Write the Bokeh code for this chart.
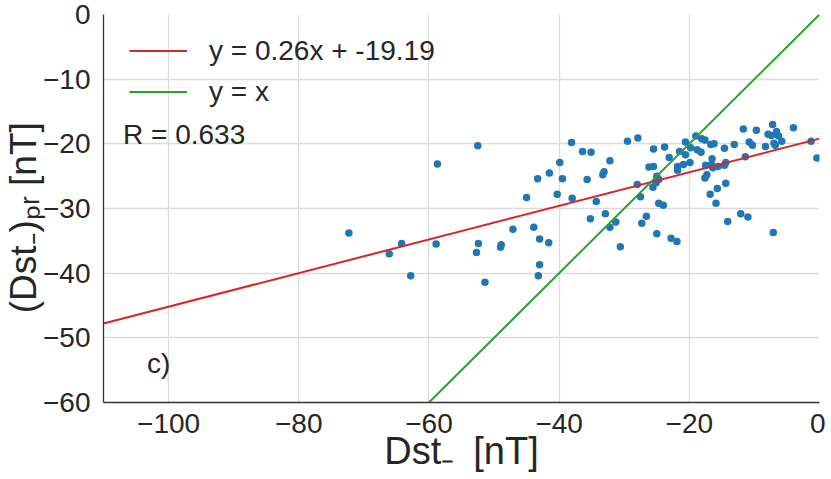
from bokeh.plotting import figure
from bokeh.models import FixedTicker, Legend, LegendItem, Label
from bokeh.embed import file_html
from bokeh.resources import INLINE

# observed Dst- (x) and predicted (Dst-)pr (y), nT
dst = [-52.5, -58.7, -38.1, -36.4, -39.9, -41.5, -43.3, -39.5, -40.3, -45.0,
       -38.0, -72.3, -47.1, -43.9, -43.0, -41.6, -64.2, -66.1, -58.9, -52.4,
       -52.7, -48.9, -49.0, -62.8, -51.4, -43.0, -43.2,
       -35.1, -29.5, -27.9, -32.2, -33.1, -33.3, -35.7, -34.3, -35.2,
       -32.9, -31.3, -32.2, -30.6, -25.5, -23.8, -23.1, -26.2, -25.5, -28.0,
       -25.0, -24.7, -25.6, -25.1, -27.5, -24.7, -24.0, -26.6, -27.3, -25.0,
       -22.8, -21.9, -20.6, -21.5, -20.6, -21.8, -21.8, -20.9, -19.9, -19.8,
       -19.0, -18.1, -17.6, -18.8, -18.2, -16.7, -16.2, -16.5, -17.5, -16.6,
       -16.4, -15.6, -14.6, -14.4, -14.6, -13.1, -17.6, -17.3, -15.7, -14.4,
       -16.8, -15.9, -14.1, -12.1, -11.0, -7.1, -11.7, -9.7, -10.8, -10.3,
       -11.4, -8.3, -7.2, -7.9, -7.4, -6.6, -6.3, -7.0, -6.8, -5.8,
       -4.0, -1.3, -0.4]
dst_pr = [-20.3, -23.1, -19.8, -21.2, -22.9, -24.5, -25.4, -25.4, -27.8, -28.3,
          -28.4, -33.8, -33.2, -32.9, -34.7, -35.3, -35.4, -37.0, -35.5, -35.4,
          -36.8, -35.6, -36.0, -40.4, -41.4, -38.7, -40.4,
          -21.3, -19.6, -19.1, -22.6, -24.3, -24.8, -25.5, -28.9, -31.6,
          -30.8, -32.1, -32.9, -35.9, -20.8, -20.5, -22.1, -23.6, -23.5, -26.3,
          -25.0, -25.5, -26.7, -26.0, -28.2, -29.2, -29.5, -31.2, -32.3, -33.9,
          -34.6, -35.1, -19.7, -21.2, -21.7, -23.5, -24.1, -23.2, -22.9, -20.6,
          -18.8, -19.2, -19.4, -20.9, -21.3, -20.1, -20.0, -22.3, -23.3, -23.2,
          -23.7, -23.5, -23.3, -22.9, -20.7, -20.1, -25.3, -24.8, -26.9, -26.1,
          -27.8, -29.2, -32.0, -30.8, -31.3, -33.7, -17.7, -17.9, -19.7, -20.2,
          -22.0, -20.4, -17.0, -18.5, -18.7, -18.1, -18.8, -19.9, -20.2, -19.6,
          -17.5, -19.6, -22.2]

slope = 0.26
intercept = -19.19
r_value = 0.633
fit_x = [-110, 0]
ident_x = [-60, 0]

x_ticks = [-100, -80, -60, -40, -20, 0]
y_ticks = [-60, -50, -40, -30, -20, -10, 0]
fit_label = "y = 0.26x + -19.19"
ident_label = "y = x"
panel_label = "c)"
x_title = "Dst\u208b\u2002[nT]"
y_title = "(Dst\u208b)\u209a\u1d63 [nT]\u2002"

FONT = "Liberation Sans"
TXT = "#262626"

p = figure(frame_width=716, frame_height=388, x_range=(-110, 0), y_range=(-60, 0),
           output_backend="svg", toolbar_location=None,
           min_border_left=93, min_border_right=6, min_border_top=14,
           min_border_bottom=60)
p.outline_line_color = None
p.background_fill_color = "white"

for ax in (p.xaxis[0], p.yaxis[0]):
    ax.major_tick_line_color = None
    ax.minor_tick_line_color = None
    ax.axis_line_color = "#333333"
    ax.axis_line_width = 1.3
    ax.major_label_text_font = FONT
    ax.major_label_text_font_size = "28px"
    ax.major_label_text_color = TXT
    ax.major_label_text_line_height = 1.0
    ax.axis_label_text_font = FONT
    ax.axis_label_text_font_style = "normal"
    ax.axis_label_text_color = TXT
    ax.axis_label_text_line_height = 1.0

p.xaxis.ticker = FixedTicker(ticks=x_ticks)
p.yaxis.ticker = FixedTicker(ticks=y_ticks)
p.xaxis.major_label_overrides = {t: str(t).replace("-", "\u2212") for t in x_ticks}
p.yaxis.major_label_overrides = {t: str(t).replace("-", "\u2212") for t in y_ticks}
p.xaxis.major_label_standoff = 5
p.yaxis.major_label_standoff = 7

p.xaxis.axis_label = x_title
p.xaxis.axis_label_text_font_size = "38px"
p.xaxis.axis_label_standoff = -6
p.yaxis.axis_label = y_title
p.yaxis.axis_label_text_font_size = "37px"
p.yaxis.axis_label_standoff = -4

p.xgrid.grid_line_color = "#dcdcdc"
p.ygrid.grid_line_color = "#dcdcdc"
p.xgrid.grid_line_width = 1.3
p.ygrid.grid_line_width = 1.3

p.scatter(dst, dst_pr, size=7.5, fill_color="#1f77b4", line_color=None)

fit_y = [slope * v + intercept for v in fit_x]
r_fit = p.line(fit_x, fit_y, line_color="#d62728", line_width=2)
r_id = p.line(ident_x, ident_x, line_color="#2ca02c", line_width=2)

legend = Legend(items=[LegendItem(label=fit_label, renderers=[r_fit]),
                       LegendItem(label=ident_label, renderers=[r_id])],
                location=(26, 290), orientation="vertical",
                label_text_font=FONT, label_text_font_size="28px",
                label_text_color=TXT, glyph_width=58, glyph_height=41,
                label_height=41, label_standoff=22, spacing=0, padding=0,
                margin=0, border_line_alpha=0, background_fill_alpha=0)
p.add_layout(legend)

p.add_layout(Label(x=-107.0, y=-18.6, text=f"R = {r_value:.3f}",
                   text_font=FONT, text_font_size="28px", text_color=TXT,
                   text_baseline="middle", text_align="left"))
p.add_layout(Label(x=-103.3, y=-53.9, text=panel_label,
                   text_font=FONT, text_font_size="28px", text_color=TXT,
                   text_baseline="middle", text_align="left"))

open("out.html", "w").write(file_html(p, INLINE))
